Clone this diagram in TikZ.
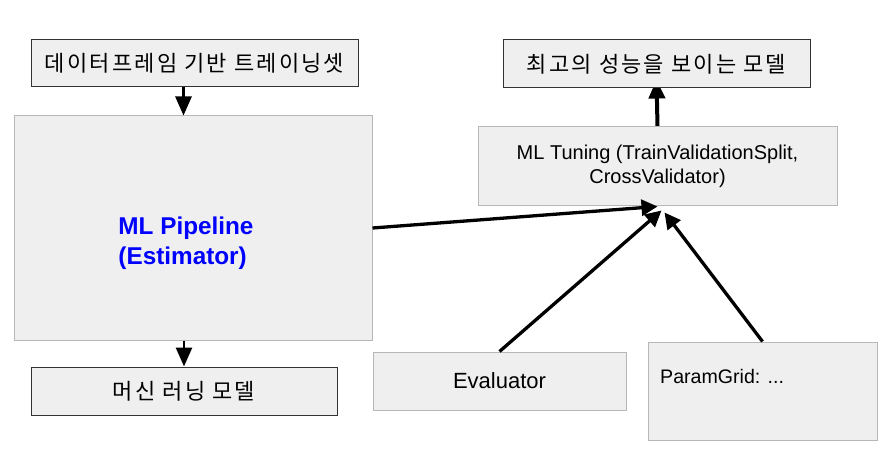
\documentclass[tikz,border=0pt]{standalone}
\usepackage{fontspec}
\setmainfont{Liberation Sans}
\newfontfamily\krfont[LetterSpace=10]{Noto Sans CJK KR}
\usepackage{xcolor}
\usetikzlibrary{positioning, calc, arrows.meta, backgrounds}

\definecolor{boxfill}{HTML}{EFEFEF}
\definecolor{lightedge}{HTML}{B7B7B7}
\definecolor{darkedge}{HTML}{333333}

\begin{document}
\begin{tikzpicture}[x=1pt, y=-1pt,
        darkbox/.style={rectangle, draw=darkedge, line width=1pt, fill=boxfill, inner sep=0pt},
        lightbox/.style={rectangle, draw=lightedge, line width=1pt, fill=boxfill, inner sep=0pt},
        arr/.style={-{Triangle[length=19pt, width=16pt]}, line width=2.7pt},
        slant/.style={-{Triangle[length=16pt, width=16pt]}, line width=3.3pt}]

        \useasboundingbox (0,0) rectangle (890,454);

        % input and output of the pipeline
        \node[darkbox, minimum width=327pt, minimum height=47pt] (train) at (194.5,63.5)
            {\krfont\fontsize{22}{24}\selectfont 데이터프레임 기반 트레이닝셋};
        \node[lightbox, minimum width=358pt, minimum height=224pt] (pipe) at (193,228) {};
        \node[align=left, text=blue, font=\bfseries\fontsize{24.3}{30}\selectfont] (pipetext) at (186,243)
            {ML Pipeline\\(Estimator)};
        \node[darkbox, minimum width=306pt, minimum height=48pt] (model) at (184,391)
            {\krfont\fontsize{22}{24}\selectfont 머신 러닝 모델};

        % tuning part
        \node[darkbox, minimum width=307pt, minimum height=48pt] (best) at (656.5,64)
            {\krfont\fontsize{22}{24}\selectfont 최고의 성능을 보이는 모델};
        \node[lightbox, minimum width=359pt, minimum height=79pt, align=center,
            font=\fontsize{20}{24}\selectfont] (tune) at (657.5,166.5)
            {ML Tuning (TrainValidationSplit,\\CrossValidator)};
        \node[lightbox, minimum width=253pt, minimum height=58pt,
            font=\fontsize{22}{24}\selectfont] (eval) at (499.5,381) {Evaluator};
        \node[lightbox, minimum width=229pt, minimum height=98pt] (grid) at (762.5,391) {};
        \node[anchor=west, inner sep=0pt, font=\fontsize{19.6}{22}\selectfont] (gridtext) at (660,376)
            {ParamGrid: ...};

        \draw[arr] ([xshift=-11pt]train.south) -- ([xshift=-11pt]train.south |- pipe.north);
        \draw[arr] (pipe.south -| model.north) -- (model.north);
        \draw[slant] (pipe.east) -- (tune.south);
        \draw[slant] (eval.north) -- ($(tune.south)+(4,4)$);
        \draw[slant] (grid.north) -- ($(tune.south)+(7,6)$);
        \begin{scope}[on background layer]
            \draw[arr, line width=4pt] (tune.north) -- ($(best.south)+(0,-9)$);
        \end{scope}
      \end{tikzpicture}
\end{document}
